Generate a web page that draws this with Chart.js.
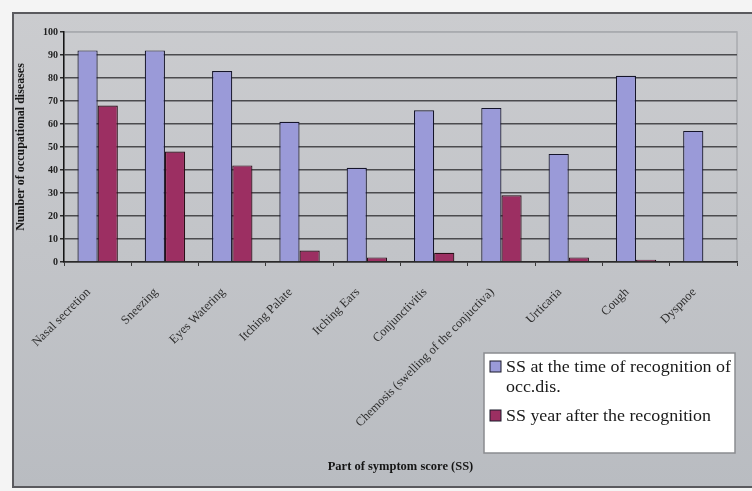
<!DOCTYPE html>
<html>
<head>
<meta charset="utf-8">
<script src="https://cdn.jsdelivr.net/npm/chart.js@4.4.1/dist/chart.umd.min.js"></script>
<style>
  html, body { margin: 0; padding: 0; background: #ffffff; }
  #wrap { width: 752px; height: 491px; position: relative; }
</style>
</head>
<body>
<div id="wrap"><canvas id="chart" width="752" height="491"></canvas></div>
<script>
// Symptom-score parts (x categories)
const categories = [
  'Nasal secretion',
  'Sneezing',
  'Eyes Watering',
  'Itching Palate',
  'Itching Ears',
  'Conjunctivitis',
  'Chemosis (swelling of the conjuctiva)',
  'Urticaria',
  'Cough',
  'Dyspnoe'
];

// Number of occupational diseases per symptom
const ssAtRecognition = [92, 92, 83, 61, 41, 66, 67, 47, 81, 57];
const ssYearAfter     = [68, 48, 42, 5, 2, 4, 29, 2, 1, 0];

const seriesLabels = [
  'SS at the time of recognition of occ.dis.',
  'SS year after the recognition'
];

// Value axis: 0..100 in steps of 10
const yMin = 0;
const yMax = 100;
const yStep = 10;

const xTitle = 'Part of symptom score (SS)';
const yTitle = 'Number of occupational diseases';

const SERIF = '"Liberation Serif", "DejaVu Serif", serif';

// Grey frame behind the whole chart plus the plot-area border
const framePlugin = {
  id: 'frame',
  beforeDraw(chart) {
    const ctx = chart.ctx;
    const W = chart.width, H = chart.height;
    ctx.save();
    ctx.fillStyle = '#f4f4f4';
    ctx.fillRect(0, 0, W, H);
    const g = ctx.createLinearGradient(0, 12, 0, H - 3);
    g.addColorStop(0, '#cbcccf');
    g.addColorStop(1, '#b9bcc1');
    ctx.fillStyle = g;
    ctx.fillRect(12, 12, W - 12, H - 15);
    ctx.strokeStyle = '#5a5a5e';
    ctx.lineWidth = 2;
    ctx.beginPath();
    ctx.moveTo(W, 13);
    ctx.lineTo(13, 13);
    ctx.lineTo(13, H - 4);
    ctx.lineTo(W, H - 4);
    ctx.stroke();
    const a = chart.chartArea;
    ctx.strokeStyle = '#a9abaf';
    ctx.lineWidth = 1.5;
    ctx.strokeRect(a.left, a.top, a.right - a.left, a.bottom - a.top);
    ctx.restore();
  }
};

// Boxed legend in the lower right, wrapping long labels
const boxLegendPlugin = {
  id: 'boxLegend',
  afterDraw(chart) {
    const ctx = chart.ctx;
    const box = { x: 484, y: 353, w: 251, h: 100 };
    const stretch = 1.12;      // slightly wide lettering
    const lineGap = 20;
    ctx.save();
    ctx.fillStyle = '#ffffff';
    ctx.fillRect(box.x, box.y, box.w, box.h);
    ctx.strokeStyle = '#8a8c90';
    ctx.lineWidth = 1.5;
    ctx.strokeRect(box.x, box.y, box.w, box.h);

    ctx.font = '16px ' + SERIF;
    ctx.textBaseline = 'alphabetic';
    ctx.textAlign = 'left';
    const textX = box.x + 22;
    const maxW = (box.w - 20) / stretch;
    let baseline = box.y + 19;
    chart.data.datasets.forEach((ds) => {
      // swatch
      ctx.fillStyle = ds.backgroundColor;
      ctx.fillRect(box.x + 6, baseline - 11, 11, 11);
      ctx.strokeStyle = '#1a1a2a';
      ctx.lineWidth = 1;
      ctx.strokeRect(box.x + 6, baseline - 11, 11, 11);
      // wrapped label
      const words = ds.label.split(' ');
      const lines = [];
      let line = '';
      words.forEach(w => {
        const test = line ? line + ' ' + w : w;
        if (ctx.measureText(test).width > maxW && line) {
          lines.push(line);
          line = w;
        } else {
          line = test;
        }
      });
      if (line) lines.push(line);
      ctx.fillStyle = '#1a1a1a';
      lines.forEach((l, k) => {
        ctx.save();
        ctx.translate(textX, baseline + k * lineGap);
        ctx.scale(stretch, 1);
        ctx.fillText(l, 0, 0);
        ctx.restore();
      });
      baseline += (lines.length - 1) * lineGap + 29;
    });
    ctx.restore();
  }
};

new Chart(document.getElementById('chart'), {
  type: 'bar',
  data: {
    labels: categories,
    datasets: [
      {
        label: seriesLabels[0],
        data: ssAtRecognition,
        backgroundColor: '#9a9ad8',
        borderColor: '#15152a',
        borderWidth: 1.2,
        categoryPercentage: 0.6,
        barPercentage: 1.0
      },
      {
        label: seriesLabels[1],
        data: ssYearAfter,
        backgroundColor: '#9c2f62',
        borderColor: '#2a0f18',
        borderWidth: 1.2,
        categoryPercentage: 0.6,
        barPercentage: 1.0
      }
    ]
  },
  options: {
    responsive: false,
    animation: false,
    devicePixelRatio: 1,
    layout: { padding: { top: 32, right: 15, left: 12, bottom: 3 } },
    plugins: {
      legend: { display: false },
      tooltip: { enabled: false }
    },
    scales: {
      x: {
        afterFit(scale) { scale.height = 226; },
        grid: {
          display: true,
          drawOnChartArea: false,
          drawTicks: true,
          tickLength: 4,
          offset: true,
          tickColor: '#3a3a3a'
        },
        border: { display: true, color: '#2a2a2a', width: 1.5 },
        ticks: {
          autoSkip: false,
          maxRotation: 45,
          minRotation: 45,
          padding: 19,
          labelOffset: -9,
          color: '#2e2e2e',
          font: { family: SERIF, size: 12.5 }
        },
        title: {
          display: true,
          text: xTitle,
          color: '#151515',
          font: { family: SERIF, size: 12.5, weight: 'bold' },
          padding: { top: 0, bottom: 14 }
        }
      },
      y: {
        min: yMin,
        max: yMax,
        afterFit(scale) { scale.width = 52; },
        ticks: {
          stepSize: yStep,
          padding: 2,
          color: '#1e1e1e',
          font: { family: SERIF, size: 10, weight: 'bold' }
        },
        grid: {
          color: (c) => (c.tick && c.tick.value === yMax ? '#a9abaf' : '#4b4b4e'),
          lineWidth: 1.5,
          tickLength: 4,
          tickColor: '#2a2a2a'
        },
        border: { display: true, color: '#151515', width: 1.5 },
        title: {
          display: true,
          text: yTitle,
          color: '#151515',
          font: { family: SERIF, size: 12, weight: 'bold' },
          padding: { top: 2, bottom: 0 }
        }
      }
    }
  },
  plugins: [framePlugin, boxLegendPlugin]
});
</script>
</body>
</html>
